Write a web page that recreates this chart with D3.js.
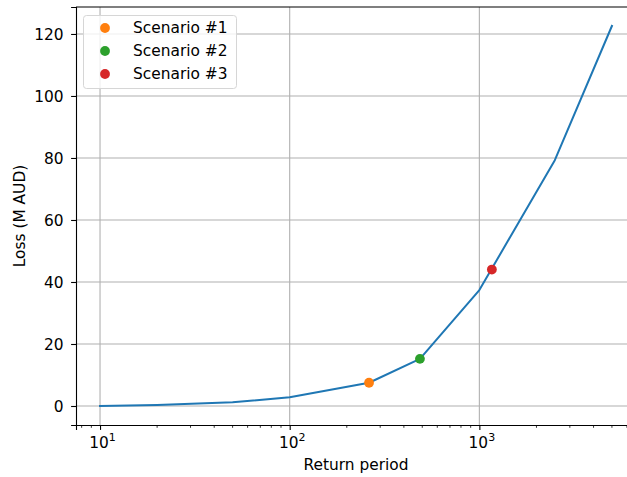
<!DOCTYPE html>
<html>
<head>
<meta charset="utf-8">
<script src="https://cdn.jsdelivr.net/npm/d3@7"></script>
<style>
  body { margin: 0; background: #fff; }
  text { font-family: "DejaVu Sans", sans-serif; fill: #000; }
</style>
</head>
<body>
<div id="chart"></div>
<script>
// loss curve (return period in years, loss in M AUD)
const returnPeriods = [10, 20, 50, 100, 262, 486, 1000, 2500, 5000];
const losses = [0, 0.3, 1.2, 2.8, 7.5, 15.2, 37.4, 79.3, 122.6];

// highlighted scenarios
const scenarioNames = ["Scenario #1", "Scenario #2", "Scenario #3"];
const scenarioPeriods = [262, 486, 1164];
const scenarioLosses = [7.5, 15.2, 44.0];
const scenarioColors = ["#ff7f0e", "#2ca02c", "#d62728"];

const yTicks = [0, 20, 40, 60, 80, 100, 120];
const xMajor = [10, 100, 1000];

const W = 627, H = 477;
const mLeft = 76, mRight = 640, mTop = 7, mBottom = 425;
const fs = "15.4px";

const svg = d3.select("#chart").append("svg")
  .attr("width", W).attr("height", H);

const x = d3.scaleLog().domain([7.47, 7030]).range([mLeft, mRight]);
const y = d3.scaleLinear().domain([-6.13, 128.7]).range([mBottom, mTop]);

// grid
svg.append("g").selectAll("line").data(yTicks).enter().append("line")
  .attr("x1", mLeft).attr("x2", mRight)
  .attr("y1", d => y(d)).attr("y2", d => y(d))
  .attr("stroke", "#b0b0b0").attr("stroke-width", 1.1);
svg.append("g").selectAll("line").data(xMajor).enter().append("line")
  .attr("x1", d => x(d)).attr("x2", d => x(d))
  .attr("y1", mTop).attr("y2", mBottom)
  .attr("stroke", "#b0b0b0").attr("stroke-width", 1.1);

// line
const data = returnPeriods.map((p, i) => ({ p, v: losses[i] }));
svg.append("path").datum(data)
  .attr("fill", "none").attr("stroke", "#1f77b4").attr("stroke-width", 2)
  .attr("stroke-linejoin", "round").attr("stroke-linecap", "square")
  .attr("d", d3.line().x(d => x(d.p)).y(d => y(d.v)));

// scenario markers
svg.append("g").selectAll("circle").data(scenarioNames).enter().append("circle")
  .attr("cx", (d, i) => x(scenarioPeriods[i]))
  .attr("cy", (d, i) => y(scenarioLosses[i]))
  .attr("r", 4.9)
  .attr("fill", (d, i) => scenarioColors[i]);

// axes
const xAxis = svg.append("g").attr("transform", `translate(0,${mBottom})`)
  .call(d3.axisBottom(x).tickValues(xMajor).tickSize(4.9).tickPadding(5).tickFormat(""));
const minor = [];
[1, 10, 100, 1000].forEach(b => { for (let k = 2; k <= 9; k++) minor.push(b * k); });
xAxis.append("g").selectAll("line")
  .data(minor.filter(d => d > x.domain()[0] && d < x.domain()[1])).enter().append("line")
  .attr("x1", d => x(d)).attr("x2", d => x(d)).attr("y1", 0).attr("y2", 2.8)
  .attr("stroke", "#000").attr("stroke-width", 0.8);
xAxis.selectAll(".tick").each(function(d) {
  const t = d3.select(this).append("text")
    .attr("y", 23).attr("x", 2).attr("text-anchor", "middle").style("font-size", fs);
  t.append("tspan").text("10");
  t.append("tspan").attr("dy", -7).style("font-size", "11px").text(Math.round(Math.log10(d)));
});

svg.append("g").attr("transform", `translate(${mLeft},0)`)
  .call(d3.axisLeft(y).tickValues(yTicks).tickSize(4.9).tickPadding(7.5))
  .selectAll("text").style("font-size", fs).attr("dy", "0.35em");

svg.selectAll(".domain").attr("stroke", "#000").attr("stroke-width", 1.1);
svg.selectAll(".tick line").attr("stroke", "#000").attr("stroke-width", 1.1);

// top spine
svg.append("line").attr("x1", mLeft).attr("x2", mRight).attr("y1", mTop).attr("y2", mTop)
  .attr("stroke", "#000").attr("stroke-width", 1.1);

// axis labels
svg.append("text").attr("x", 356).attr("y", 470)
  .attr("text-anchor", "middle").style("font-size", fs).text("Return period");
svg.append("text").attr("transform", `translate(24.5,${(mTop + mBottom) / 2}) rotate(-90)`)
  .attr("text-anchor", "middle").style("font-size", fs).text("Loss (M AUD)");

// legend
const lg = svg.append("g");
lg.append("rect").attr("x", 83.5).attr("y", 15.5).attr("width", 153).attr("height", 73)
  .attr("rx", 3).attr("fill", "#fff").attr("fill-opacity", 0.8)
  .attr("stroke", "#d6d6d6").attr("stroke-width", 1);
scenarioNames.forEach((name, i) => {
  const yy = 28 + i * 23;
  lg.append("circle").attr("cx", 105).attr("cy", yy).attr("r", 4.9).attr("fill", scenarioColors[i]);
  lg.append("text").attr("x", 133).attr("y", yy).attr("dy", "0.35em")
    .style("font-size", fs).text(name);
});
</script>
</body>
</html>
